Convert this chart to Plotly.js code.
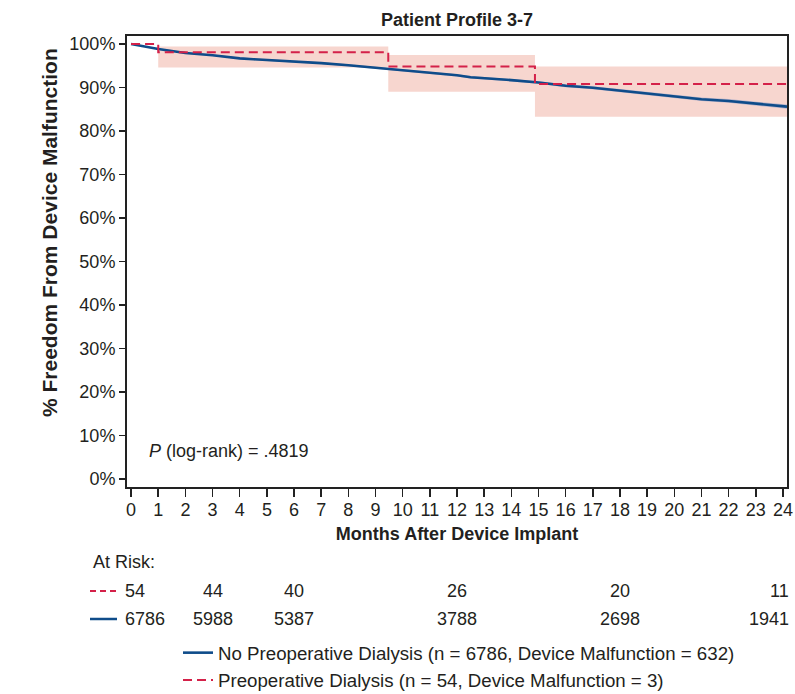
<!DOCTYPE html>
<html>
<head>
<meta charset="utf-8">
<script src="https://cdn.plot.ly/plotly-3.0.1.min.js"></script>
<style>html,body{margin:0;padding:0;background:#fff;}#chart{width:795px;height:694px;}</style>
</head>
<body>
<div id="chart"></div>
<script>
// ---- Data ----
var blueMonths = [0,0.5,1,1.5,2,3,3.5,4,4.5,5,6,7,8,9,10,11,12,12.5,13,14,15,16,17,18,19,20,21,22,23,24,24.15];
var blueSurv   = [100,99.4,98.85,98.4,97.95,97.4,97.0,96.7,96.5,96.35,96.0,95.6,95.1,94.55,93.9,93.5,92.8,92.35,92.15,91.7,91.15,90.4,89.95,89.3,88.6,87.9,87.3,86.9,86.3,85.65,85.6];
var blueUpper  = [100,99.5,98.97,98.54,98.1,97.57,97.18,96.89,96.7,96.55,96.21,95.82,95.33,94.79,94.15,93.76,93.07,92.63,92.43,92.0,91.46,90.72,90.29,89.65,88.97,88.29,87.71,87.33,86.75,86.13,86.08];
var blueLower  = [100,99.3,98.73,98.26,97.8,97.23,96.82,96.51,96.3,96.15,95.79,95.38,94.87,94.31,93.65,93.24,92.53,92.07,91.87,91.4,90.84,90.08,89.61,88.95,88.23,87.51,86.89,86.47,85.85,85.17,85.12];

var redMonths = [0, 1, 9.47, 14.87, 24.15];
var redSurv   = [100, 98.1, 94.8, 90.8, 90.8];
var redLower  = [100, 94.6, 89.0, 83.3, 83.3];
var redUpper  = [100, 99.4, 97.5, 94.8, 94.8];

var atRiskMonths     = [0, 3, 6, 12, 18, 24];
var atRiskDialysis   = [54, 44, 40, 26, 20, 11];
var atRiskNoDialysis = [6786, 5988, 5387, 3788, 2698, 1941];

var xTicks = [0,1,2,3,4,5,6,7,8,9,10,11,12,13,14,15,16,17,18,19,20,21,22,23,24];
var yTicks = [0,10,20,30,40,50,60,70,80,90,100];

var nameNo  = "No Preoperative Dialysis (n = 6786, Device Malfunction = 632)";
var nameYes = "Preoperative Dialysis (n = 54, Device Malfunction = 3)";
var pText = "<i>P</i> (log-rank) = .4819";

// ---- Styles ----
var FONT = "Liberation Sans, Arial, Helvetica, sans-serif";
var TXT = "#231f20";
var BLUE = "#0f4c8a";
var RED = "#d42149";
var PINK = "#f7d6cf";

var traces = [
  {x: redMonths, y: redLower, mode: "lines", line: {width: 0, shape: "hv"}, hoverinfo: "skip", showlegend: false},
  {x: redMonths, y: redUpper, mode: "lines", line: {width: 0, shape: "hv"}, fill: "tonexty", fillcolor: PINK, hoverinfo: "skip", showlegend: false},
  {x: blueMonths, y: blueLower, mode: "lines", line: {width: 0}, hoverinfo: "skip", showlegend: false},
  {x: blueMonths, y: blueUpper, mode: "lines", line: {width: 0}, fill: "tonexty", fillcolor: "rgba(110,140,195,0.45)", hoverinfo: "skip", showlegend: false},
  {x: blueMonths, y: blueSurv, mode: "lines", name: nameNo, line: {color: BLUE, width: 2.6}, legendrank: 1},
  {x: redMonths, y: redSurv, mode: "lines", name: nameYes, line: {color: RED, width: 2, dash: "9px,5px", shape: "hv"}, legendrank: 2}
];

function px2paperX(p) { return (p - 127) / 660; }
function px2paperY(p) { return (487 - p) / 451; }

var annotations = [];
annotations.push({xref: "x", yref: "y", x: 0.6, y: 6.4, text: pText, showarrow: false, xanchor: "left", yanchor: "middle", font: {family: FONT, size: 18, color: TXT}});
annotations.push({xref: "paper", yref: "paper", x: px2paperX(50), y: px2paperY(233), text: "<b>% Freedom From Device Malfunction</b>", textangle: -90, showarrow: false, xanchor: "center", yanchor: "middle", font: {family: FONT, size: 21, color: TXT}});
annotations.push({xref: "paper", yref: "paper", x: px2paperX(91), y: px2paperY(562), text: "At Risk:", showarrow: false, xanchor: "left", yanchor: "middle", font: {family: FONT, size: 18, color: TXT}});

function rowAnn(vals, py) {
  for (var i = 0; i < atRiskMonths.length; i++) {
    var a = {xref: "x", yref: "paper", x: atRiskMonths[i], y: px2paperY(py), text: String(vals[i]), showarrow: false, yanchor: "middle", font: {family: FONT, size: 18, color: TXT}};
    if (i === 0) { a.xanchor = "left"; a.xshift = -8; }
    else if (i === atRiskMonths.length - 1) { a.xanchor = "right"; a.xshift = 8; }
    else { a.xanchor = "center"; }
    annotations.push(a);
  }
}
rowAnn(atRiskDialysis, 591);
rowAnn(atRiskNoDialysis, 619);

var shapes = [
  {type: "line", xref: "paper", yref: "paper", x0: px2paperX(90), x1: px2paperX(117), y0: px2paperY(591), y1: px2paperY(591), line: {color: RED, width: 2, dash: "6px,4px"}},
  {type: "line", xref: "paper", yref: "paper", x0: px2paperX(90), x1: px2paperX(117), y0: px2paperY(619), y1: px2paperY(619), line: {color: BLUE, width: 2.5}}
];

var layout = {
  width: 795, height: 694,
  margin: {l: 127, r: 8, t: 36, b: 207, autoexpand: false},
  paper_bgcolor: "#fff", plot_bgcolor: "#fff",
  font: {family: FONT, size: 18, color: TXT},
  title: {text: "<b>Patient Profile 3-7</b>", xref: "paper", x: 0.5, xanchor: "center", yref: "container", y: 1 - 20 / 694, yanchor: "middle", font: {family: FONT, size: 18, color: TXT}},
  xaxis: {
    range: [-0.15, 24.15], tickmode: "array", tickvals: xTicks, ticktext: xTicks.map(String),
    showgrid: false, zeroline: false, showline: true, mirror: true, linecolor: "#222", linewidth: 2,
    ticks: "outside", ticklen: 8, tickwidth: 1.5, tickcolor: "#222", ticklabelstandoff: -3,
    tickfont: {family: FONT, size: 18, color: TXT},
    title: {text: "<b>Months After Device Implant</b>", font: {family: FONT, size: 18, color: TXT}, standoff: 9}
  },
  yaxis: {
    range: [-1.84, 101.84], tickmode: "array", tickvals: yTicks, ticktext: yTicks.map(function (v) { return v + "%"; }),
    showgrid: false, zeroline: false, showline: true, mirror: true, linecolor: "#222", linewidth: 2,
    ticks: "outside", ticklen: 6, tickwidth: 1.5, tickcolor: "#222",
    tickfont: {family: FONT, size: 18, color: TXT}
  },
  showlegend: true,
  legend: {xref: "container", yref: "container", x: 178 / 795, y: 1 - 634 / 694, xanchor: "left", yanchor: "top", bgcolor: "rgba(0,0,0,0)", borderwidth: 0, font: {family: FONT, size: 18.7, color: TXT}, traceorder: "normal", itemwidth: 30},
  annotations: annotations,
  shapes: shapes
};

Plotly.newPlot("chart", traces, layout, {staticPlot: true, displayModeBar: false});
</script>
</body>
</html>
